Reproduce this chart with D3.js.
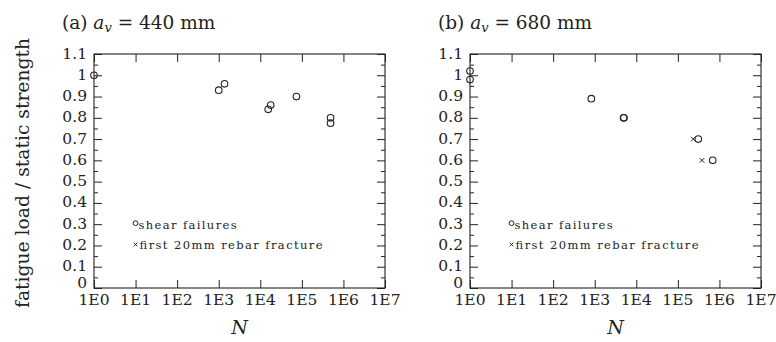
<!DOCTYPE html>
<html>
<head>
<meta charset="utf-8">
<script src="https://cdn.jsdelivr.net/npm/d3@7"></script>
<style>
  body { margin: 0; background: #fff; }
</style>
</head>
<body>
<div id="chart"></div>
<script>
// ---- data ----
const xTickValues = [1, 10, 100, 1000, 1e4, 1e5, 1e6, 1e7];
const xTickLabels = ['1E0', '1E1', '1E2', '1E3', '1E4', '1E5', '1E6', '1E7'];
const yTickValues = [0, 0.1, 0.2, 0.3, 0.4, 0.5, 0.6, 0.7, 0.8, 0.9, 1, 1.1];
const yTickLabels = ['0', '0.1', '0.2', '0.3', '0.4', '0.5', '0.6', '0.7', '0.8', '0.9', '1', '1.1'];
const panelLabels = ['(a) ', '(b) '];
const panelSpans = ['440', '680'];

// panel (a), a_v = 440 mm
const shearA_N = [1, 1000, 1380, 15500, 17800, 74000, 490000, 490000];
const shearA_ratio = [1.0, 0.93, 0.96, 0.84, 0.86, 0.90, 0.80, 0.775];
const rebarA_N = [];
const rebarA_ratio = [];

// panel (b), a_v = 680 mm
const shearB_N = [1, 1, 830, 4950, 5050, 310000, 690000];
const shearB_ratio = [1.02, 0.98, 0.89, 0.80, 0.80, 0.70, 0.60];
const rebarB_N = [235000, 380000];
const rebarB_ratio = [0.70, 0.60];

const legendLabels = ['shear failures', 'first 20mm rebar fracture'];

const W = 776, H = 342;
const plotTop = 54, plotBottom = 288;
const ink = '#222';
const serif = "'DejaVu Serif', serif";

const svg = d3.select('#chart').append('svg')
    .attr('width', W)
    .attr('height', H)
    .attr('font-family', serif)
    .style('font-family', serif);

function label(g, x, y, str, size, anchor) {
    return g.append('text')
        .attr('x', x).attr('y', y)
        .attr('text-anchor', anchor || 'start')
        .attr('fill', ink)
        .style('font-size', size + 'px')
        .text(str);
}

function drawPanel(i, left, right, shearN, shearR, rebarN, rebarR) {
    const g = svg.append('g');

    const x = d3.scaleLog().domain([1, 1e7]).range([left, right]);
    const y = d3.scaleLinear().domain([0, 1.1]).range([plotBottom, plotTop]);

    // frame
    g.append('rect')
        .attr('x', left).attr('y', plotTop)
        .attr('width', right - left).attr('height', plotBottom - plotTop)
        .attr('fill', 'none')
        .attr('stroke', ink)
        .attr('stroke-width', 1.1);

    // ticks, all pointing inward
    const minor = d3.range(0.05, 1.1, 0.1);
    const yAxisL = d3.axisLeft(y).tickValues(yTickValues).tickSize(-8).tickFormat('');
    const yAxisR = d3.axisRight(y).tickValues(yTickValues).tickSize(-8).tickFormat('');
    const yMinorL = d3.axisLeft(y).tickValues(minor).tickSize(-4).tickFormat('');
    const yMinorR = d3.axisRight(y).tickValues(minor).tickSize(-4).tickFormat('');
    const xAxisB = d3.axisBottom(x).tickValues(xTickValues).tickSize(-8).tickFormat('');
    const xAxisT = d3.axisTop(x).tickValues(xTickValues).tickSize(-8).tickFormat('');

    [[yAxisL, `translate(${left},0)`], [yMinorL, `translate(${left},0)`],
     [yAxisR, `translate(${right},0)`], [yMinorR, `translate(${right},0)`],
     [xAxisB, `translate(0,${plotBottom})`], [xAxisT, `translate(0,${plotTop})`]].forEach(([ax, tr]) => {
        const a = g.append('g').attr('transform', tr).call(ax);
        a.select('.domain').remove();
        a.selectAll('line').attr('stroke', ink).attr('stroke-width', 1);
    });

    // tick labels
    yTickValues.forEach((v, k) => {
        label(g, left - 7, y(v) + (v === 0 ? 0 : 4.5), yTickLabels[k], 15.5, 'end');
    });
    xTickValues.forEach((v, k) => {
        label(g, x(v), plotBottom + 17, xTickLabels[k], 15.5, 'middle');
    });

    // axis title N
    label(g, (left + right) / 2, 334, 'N', 19, 'middle')
        .style('font-style', 'italic');

    // panel title
    const t = g.append('text')
        .attr('x', left - 32).attr('y', 29)
        .attr('fill', ink)
        .style('font-size', '18.5px');
    t.append('tspan').text(panelLabels[i]);
    t.append('tspan').style('font-style', 'italic').text('a');
    t.append('tspan').style('font-style', 'italic').style('font-size', '13px').attr('dy', 3).text('v');
    t.append('tspan').attr('dy', -3).text(' = ' + panelSpans[i] + ' mm');

    // shear failures, open circles
    g.selectAll('circle.shear')
        .data(d3.zip(shearN, shearR))
        .join('circle')
        .attr('class', 'shear')
        .attr('cx', d => x(d[0]))
        .attr('cy', d => y(d[1]))
        .attr('r', 3.3)
        .attr('fill', 'none')
        .attr('stroke', ink)
        .attr('stroke-width', 1.1);

    // first rebar fracture, crosses
    g.selectAll('path.rebar')
        .data(d3.zip(rebarN, rebarR))
        .join('path')
        .attr('class', 'rebar')
        .attr('d', 'M-2.3,-2.3L2.3,2.3M-2.3,2.3L2.3,-2.3')
        .attr('transform', d => `translate(${x(d[0])},${y(d[1])})`)
        .attr('fill', 'none')
        .attr('stroke', ink)
        .attr('stroke-width', 1);

    // legend
    g.append('circle')
        .attr('cx', x(10)).attr('cy', y(0.3) - 1)
        .attr('r', 2.4)
        .attr('fill', 'none')
        .attr('stroke', ink)
        .attr('stroke-width', 1);
    label(g, x(10) + 3, y(0.3) + 5, legendLabels[0], 11.5)
        .attr('textLength', 98).attr('lengthAdjust', 'spacing');
    g.append('path')
        .attr('d', 'M-1.8,-1.8L1.8,1.8M-1.8,1.8L1.8,-1.8')
        .attr('transform', `translate(${x(10)},${y(0.2) - 1})`)
        .attr('stroke', ink)
        .attr('stroke-width', 1);
    label(g, x(10) + 4, y(0.2) + 4, legendLabels[1], 11.5)
        .attr('textLength', 183).attr('lengthAdjust', 'spacing');
}

drawPanel(0, 94, 385, shearA_N, shearA_ratio, rebarA_N, rebarA_ratio);
drawPanel(1, 470, 761, shearB_N, shearB_ratio, rebarB_N, rebarB_ratio);

// shared y axis title
svg.append('text')
    .attr('transform', 'translate(29,173) rotate(-90)')
    .attr('text-anchor', 'middle')
    .attr('textLength', 270).attr('lengthAdjust', 'spacingAndGlyphs')
    .attr('fill', ink)
    .style('font-size', '18px')
    .text('fatigue load / static strength');
</script>
</body>
</html>
